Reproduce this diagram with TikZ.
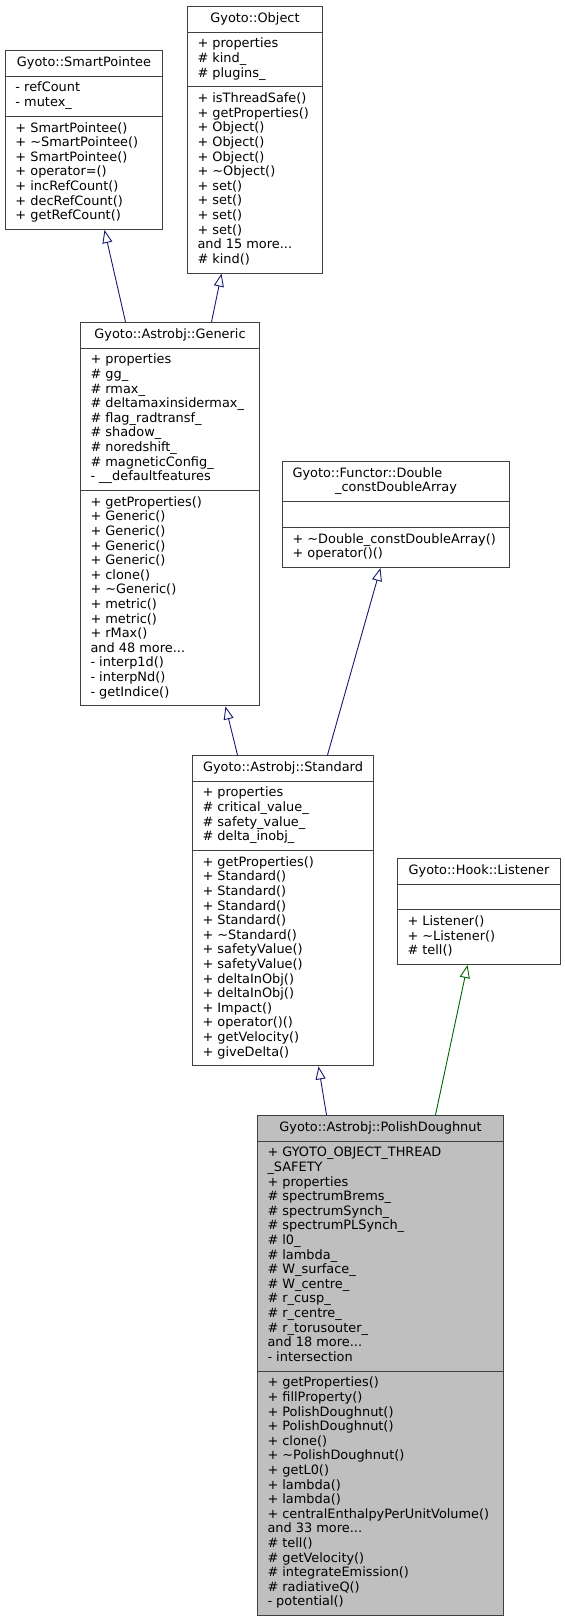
\documentclass[tikz,border=0pt]{standalone}
\usepackage{fontspec}
\setmainfont{DejaVu Sans}
\usetikzlibrary{shapes.multipart,arrows.meta}
\definecolor{edgeblue}{HTML}{191970}
\definecolor{edgegreen}{HTML}{006400}
\definecolor{boxline}{HTML}{404040}
\definecolor{boxgray}{HTML}{BFBFBF}
\tikzset{
  cls/.style={draw=boxline, fill=white, line width=1pt, anchor=north west,
    rectangle split, rectangle split parts=3,
    rectangle split part align={center,left,left}, align=left,
    inner xsep=10pt, inner ysep=5pt, font=\fontsize{12.9}{14.6}\selectfont},
  pub/.style={draw=edgeblue, line width=.9pt, -{Triangle[open,length=13pt,width=10pt]}},
  prot/.style={pub, draw=edgegreen}
}
\begin{document}
\begin{tikzpicture}[x=1pt,y=-1pt]
\fill[white] (0,0) rectangle (565,1623);
\useasboundingbox (0,0) rectangle (565,1623);

\node[cls, minimum width=157pt] (smart) at (5,50)
  {\strut Gyoto::SmartPointee\strut
   \nodepart{second}\strut - refCount\\ - mutex\_\strut
   \nodepart{third}\strut + SmartPointee()\\ + \textasciitilde SmartPointee()\\ + SmartPointee()\\
   + operator=()\\ + incRefCount()\\ + decRefCount()\\ + getRefCount()\strut};

\node[cls, minimum width=135pt] (object) at (187,6)
  {\strut Gyoto::Object\strut
   \nodepart{second}\strut + properties\\ \# kind\_\\ \# plugins\_\strut
   \nodepart{third}\strut + isThreadSafe()\\ + getProperties()\\ + Object()\\ + Object()\\
   + Object()\\ + \textasciitilde Object()\\ + set()\\ + set()\\ + set()\\ + set()\\
   and 15 more...\\ \# kind()\strut};

\node[cls, minimum width=179pt] (generic) at (80,322)
  {\strut Gyoto::Astrobj::Generic\strut
   \nodepart{second}\strut + properties\\ \# gg\_\\ \# rmax\_\\ \# deltamaxinsidermax\_\\
   \# flag\_radtransf\_\\ \# shadow\_\\ \# noredshift\_\\ \# magneticConfig\_\\
   - \_\_defaultfeatures\strut
   \nodepart{third}\strut + getProperties()\\ + Generic()\\ + Generic()\\ + Generic()\\
   + Generic()\\ + clone()\\ + \textasciitilde Generic()\\ + metric()\\ + metric()\\
   + rMax()\\ and 48 more...\\ - interp1d()\\ - interpNd()\\ - getIndice()\strut};

\node[cls, minimum width=227pt] (functor) at (282,461)
  {\strut\makebox[207pt][l]{Gyoto::Functor::Double}\\
   \makebox[207pt]{\_constDoubleArray}\strut
   \nodepart{second}\strut
   \nodepart{third}\strut + \textasciitilde Double\_constDoubleArray()\\ + operator()()\strut};

\node[cls, minimum width=181pt] (standard) at (192,755)
  {\strut Gyoto::Astrobj::Standard\strut
   \nodepart{second}\strut + properties\\ \# critical\_value\_\\ \# safety\_value\_\\
   \# delta\_inobj\_\strut
   \nodepart{third}\strut + getProperties()\\ + Standard()\\ + Standard()\\ + Standard()\\
   + Standard()\\ + \textasciitilde Standard()\\ + safetyValue()\\ + safetyValue()\\
   + deltaInObj()\\ + deltaInObj()\\ + Impact()\\ + operator()()\\ + getVelocity()\\
   + giveDelta()\strut};

\node[cls, minimum width=163pt] (listener) at (397,858)
  {\strut Gyoto::Hook::Listener\strut
   \nodepart{second}\strut
   \nodepart{third}\strut + Listener()\\ + \textasciitilde Listener()\\ \# tell()\strut};

\node[cls, fill=boxgray, minimum width=246pt] (doughnut) at (257,1115)
  {\strut Gyoto::Astrobj::PolishDoughnut\strut
   \nodepart{second}\strut + GYOTO\_OBJECT\_THREAD\\ \_SAFETY\\ + properties\\
   \# spectrumBrems\_\\ \# spectrumSynch\_\\ \# spectrumPLSynch\_\\ \# l0\_\\ \# lambda\_\\
   \# W\_surface\_\\ \# W\_centre\_\\ \# r\_cusp\_\\ \# r\_centre\_\\ \# r\_torusouter\_\\
   and 18 more...\\ - intersection\strut
   \nodepart{third}\strut + getProperties()\\ + fillProperty()\\ + PolishDoughnut()\\
   + PolishDoughnut()\\ + clone()\\ + \textasciitilde PolishDoughnut()\\ + getL0()\\
   + lambda()\\ + lambda()\\ + centralEnthalpyPerUnitVolume()\\ and 33 more...\\
   \# tell()\\ \# getVelocity()\\ \# integrateEmission()\\ \# radiativeQ()\\
   - potential()\strut};

% inheritance
\draw[pub] ([xshift=-44.5pt]generic.north) -- ([xshift=20.5pt]smart.south);
\draw[pub] ([xshift=41.5pt]generic.north) -- ([xshift=-33.5pt]object.south);
\draw[pub] ([xshift=-45.5pt]standard.north) -- ([xshift=55.5pt]generic.south);
\draw[pub] ([xshift=44.5pt]standard.north) -- ([xshift=-15.5pt]functor.south);
\draw[pub] ([xshift=-54pt]doughnut.north) -- ([xshift=35.5pt]standard.south);
\draw[prot] ([xshift=55pt]doughnut.north) -- ([xshift=-11.5pt]listener.south);
\end{tikzpicture}
\end{document}
